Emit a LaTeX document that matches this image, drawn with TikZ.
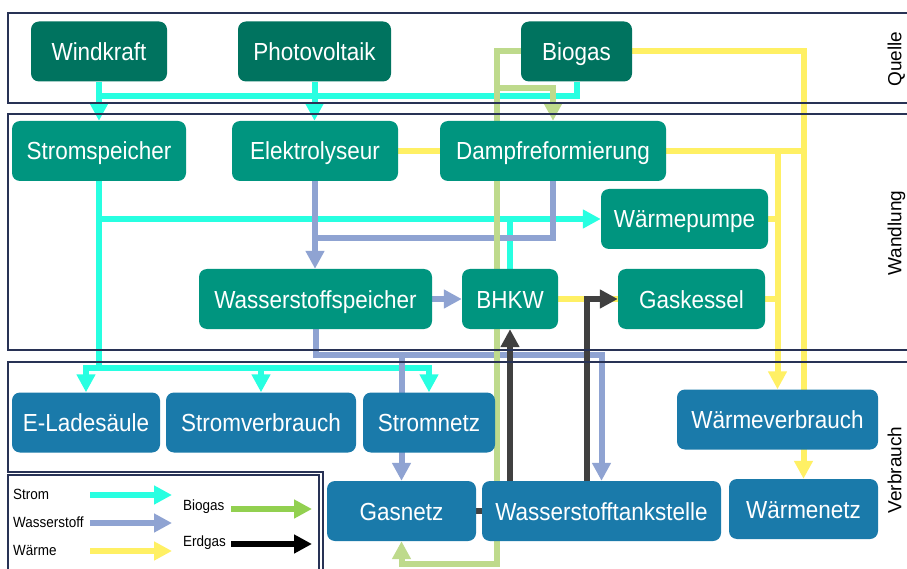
\documentclass[tikz,border=0pt]{standalone}
\usepackage{fontspec}
\setmainfont{Liberation Sans}[FakeStretch=0.91]
\newfontfamily\plainsans{Liberation Sans}
\usetikzlibrary{arrows.meta}
\pgfdeclarelayer{paper}
\pgfdeclarelayer{lines}
\pgfdeclarelayer{frames}
\pgfsetlayers{paper,lines,frames,main}
\definecolor{srcfill}{RGB}{0,115,95}
\definecolor{wfill}{RGB}{0,149,127}
\definecolor{vfill}{RGB}{26,122,170}
\definecolor{cstrom}{RGB}{40,255,225}
\definecolor{chtwo}{RGB}{143,163,210}
\definecolor{cheat}{RGB}{255,240,100}
\definecolor{cbio}{RGB}{190,218,140}
\definecolor{cbiol}{RGB}{146,208,80}
\definecolor{cgas}{RGB}{64,64,64}
\definecolor{cframe}{RGB}{40,50,85}
\begin{document}
\begin{tikzpicture}[x=1pt,y=-1pt,
 box/.style={rounded corners=8pt, inner sep=0pt, text=white, font=\fontsize{24.7}{28}\selectfont, text height=18pt, text depth=0pt, minimum height=60pt},
 src/.style={box, fill=srcfill},
 conv/.style={box, fill=wfill},
 cons/.style={box, fill=vfill},
 flow/.style={line width=6pt},
 strom/.style={flow, draw=cstrom},
 htwo/.style={flow, draw=chtwo},
 heat/.style={flow, draw=cheat},
 bgas/.style={flow, draw=cbio},
 egas/.style={flow, draw=cgas},
 arr/.style={-{Triangle[width=18pt,length=18pt]}},
 frm/.style={draw=cframe, line width=1.4pt},
 lbl/.style={font=\plainsans\fontsize{19}{22}\selectfont, rotate=90, inner sep=0pt, text height=14pt, text depth=4.5pt, anchor=south},
 leg/.style={font=\fontsize{14.8}{17}\selectfont, anchor=west, inner sep=0pt},
]
\useasboundingbox (0,0) rectangle (907,569);
\clip (0,0) rectangle (907,569);
\begin{pgfonlayer}{paper}
\fill[white] (0,0) rectangle (907,569);
\end{pgfonlayer}

% nodes
\node[src, minimum width=136pt] (wind) at (99,51.5) {Windkraft};
\node[src, minimum width=153pt] (pv) at (314.5,51.5) {Photovoltaik};
\node[src, minimum width=111pt] (bio) at (576.5,51.5) {Biogas};
\node[conv, minimum width=174pt] (sspeicher) at (99,151) {Stromspeicher};
\node[conv, minimum width=166pt] (elek) at (315,151) {Elektrolyseur};
\node[conv, minimum width=226pt] (dampf) at (553,151) {Dampfreformierung};
\node[conv, minimum width=167pt] (wp) at (684.5,219) {Wärmepumpe};
\node[conv, minimum width=147pt] (gk) at (691.5,299) {Gaskessel};
\node[conv, minimum width=96pt] (bhkw) at (510,299) {BHKW};
\node[conv, minimum width=233pt] (h2sp) at (315.5,299) {Wasserstoffspeicher};
\node[cons, minimum width=148pt] (eladen) at (86,422.5) {E-Ladesäule};
\node[cons, minimum width=190pt] (sverb) at (261,422.5) {Stromverbrauch};
\node[cons, minimum width=132pt] (snetz) at (429,422.5) {Stromnetz};
\node[cons, minimum width=149pt] (gasnetz) at (401.5,511) {Gasnetz};
\node[cons, minimum width=239pt] (wts) at (601.5,511) {Wasserstofftankstelle};
\node[cons, minimum width=201pt] (wverb) at (777.5,419.5) {Wärmeverbrauch};
\node[cons, minimum width=149pt] (wnetz) at (803.5,509) {Wärmenetz};

% section labels
\node[lbl] (lq) at (906,59) {Quelle};
\node[lbl] (lw) at (906,233) {Wandlung};
\node[lbl] (lv) at (906,470) {Verbrauch};

% helper coordinates
\coordinate (jw) at (99,96);
\coordinate (sb) at (99,368);
\coordinate (htwoa) at (315,238);
\coordinate (htwoc) at (601.5,355);
\coordinate (bgdown) at (497,564);
\coordinate (bgb) at (497,88);
\coordinate (egr) at (587,511);

\begin{pgfonlayer}{lines}
% Strom
\draw[strom,arr] (wind.south) -- (sspeicher.north);
\draw[strom,arr] (pv.south) -- (pv.south |- elek.north);
\draw[strom] (bio.south) |- (jw);
\draw[strom] (sspeicher.south) -- (sb);
\draw[strom,arr] (sb) -| (eladen.north);
\draw[strom,arr] (sb) -| (snetz.north);
\draw[strom,arr] (sverb.north |- sb) -- (sverb.north);
\draw[strom,arr] (sspeicher.south |- wp.west) -- (wp.west);
\draw[strom] (bhkw.north) -- (bhkw.north |- wp.west);
% Wasserstoff
\draw[htwo,arr] (elek.south) -- (elek.south |- h2sp.north);
\draw[htwo] (dampf.south) |- (htwoa);
\draw[htwo,arr] (h2sp.east) -- (bhkw.west);
\draw[htwo,arr] (h2sp.south) |- (htwoc) -- (wts.north);
\draw[htwo,arr] (gasnetz.north |- htwoc) -- (gasnetz.north);
% Waerme
\draw[heat] (elek.east) -- (elek.east -| wnetz.north);
\draw[heat,arr] (bio.east) -| (wnetz.north);
\draw[heat,arr] (wverb.north |- elek.east) -- (wverb.north);
\draw[heat] (wp.east) -- (wp.east -| wverb.north);
\draw[heat] (bhkw.east) -- (bhkw.east -| wverb.north);
% Biogas
\draw[bgas,arr] (bio.west) -| (bgdown) -| (gasnetz.south);
\draw[bgas,arr] (bgb) -| (dampf.north);
% Erdgas
\draw[egas,arr] (gasnetz.east) -| (bhkw.south);
\draw[egas,arr] (gasnetz.east) -- (egr) |- (gk.west);
\end{pgfonlayer}

\begin{pgfonlayer}{frames}
\draw[frm] (920,13) -- (8,13) -- (8,103) -- (920,103);
\draw[frm] (920,114) -- (8,114) -- (8,350) -- (920,350);
\draw[frm] (920,362) -- (8,362) -- (8,472) -- (323,472) -- (323,580);
\draw[frm] (8,580) -- (8,475) -- (319,475) -- (319,580);
\end{pgfonlayer}

% legend
\node[leg] (tstrom) at (13,494) {Strom};
\node[leg] (thtwo) at (13,522) {Wasserstoff};
\node[leg] (theat) at (13,550) {Wärme};
\node[leg] (tbio) at (183,507) {Biogas};
\node[leg] (tgas) at (183,543) {Erdgas};
\coordinate (la1) at (90,495); \coordinate (lb1) at (172,495);
\coordinate (la2) at (90,523); \coordinate (lb2) at (172,523);
\coordinate (la3) at (90,551); \coordinate (lb3) at (172,551);
\coordinate (la4) at (231,509); \coordinate (lb4) at (312,509);
\coordinate (la5) at (231,544); \coordinate (lb5) at (312,544);
\draw[strom,arr] (la1) -- (lb1);
\draw[htwo,arr] (la2) -- (lb2);
\draw[heat,arr] (la3) -- (lb3);
\draw[flow,draw=cbiol,arr] (la4) -- (lb4);
\draw[flow,draw=black,arr] (la5) -- (lb5);
\end{tikzpicture}
\end{document}
